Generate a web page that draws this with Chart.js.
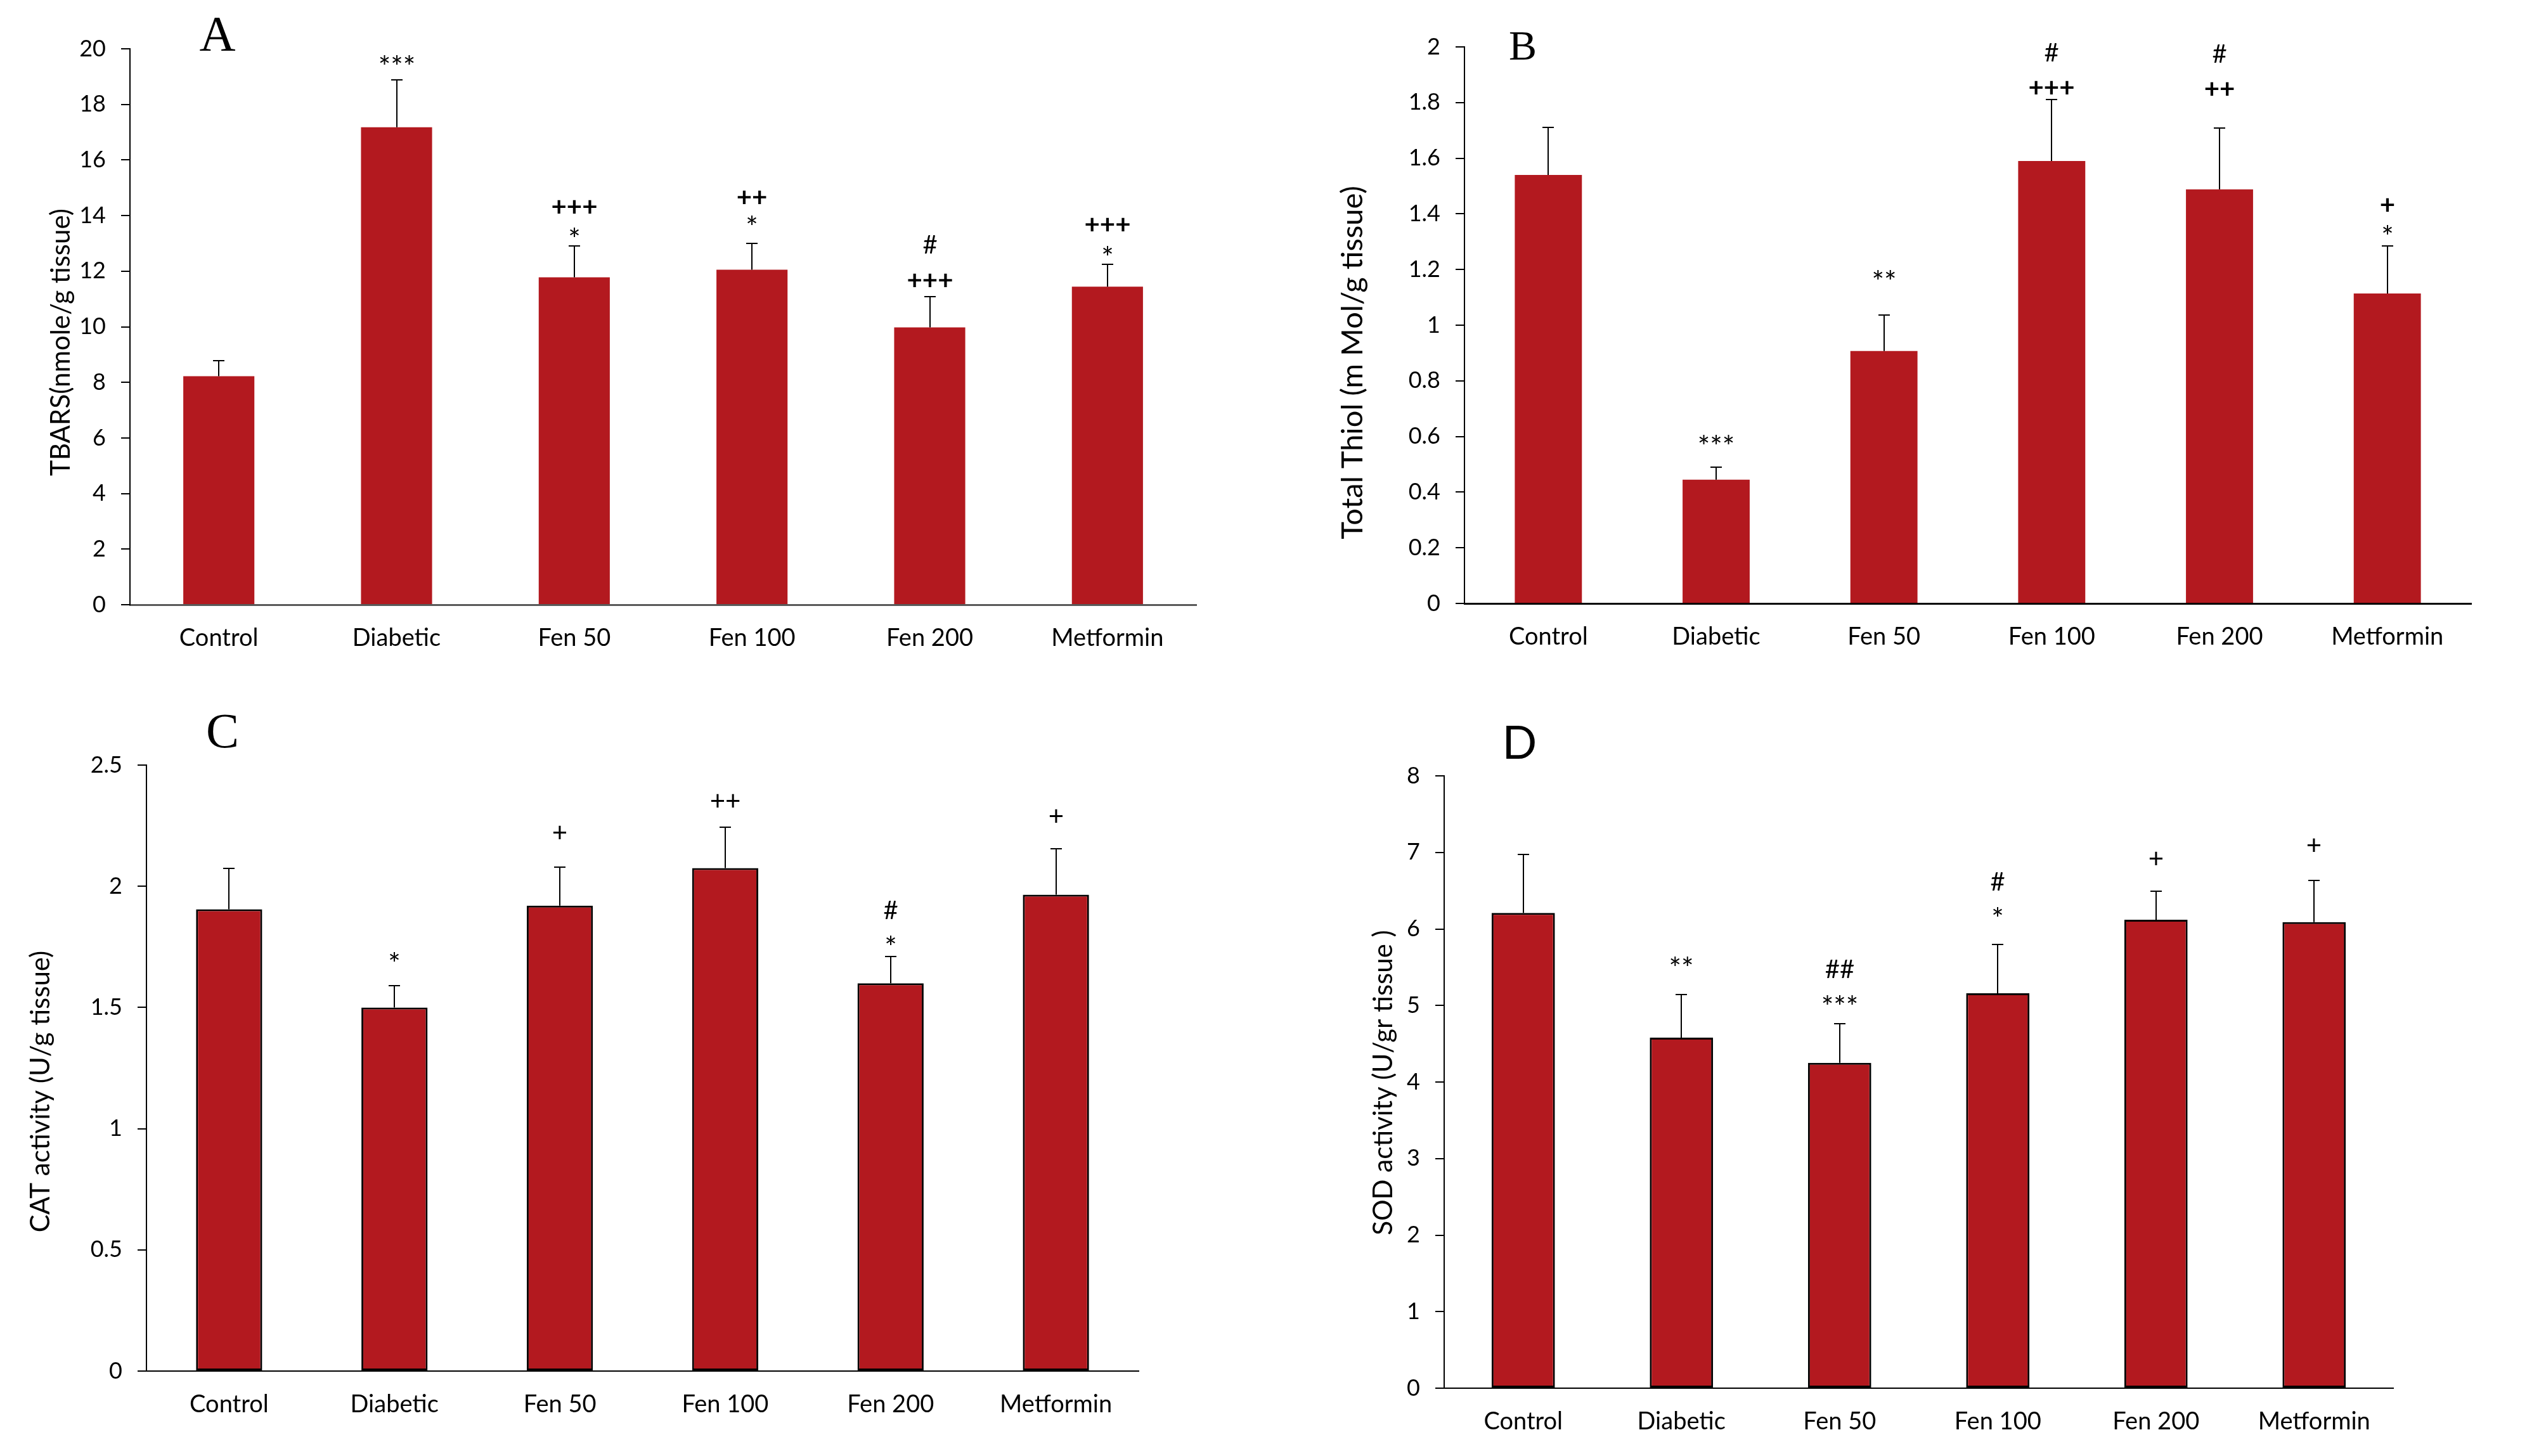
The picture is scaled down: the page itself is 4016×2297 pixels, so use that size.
<!DOCTYPE html>
<html>
<head>
<meta charset="utf-8">
<script src="https://cdn.jsdelivr.net/npm/chart.js@4.4.1/dist/chart.umd.min.js"></script>
<style>
  html, body { margin: 0; padding: 0; background: #ffffff; }
  body { width: 4016px; height: 2297px; position: relative; overflow: hidden; }
  canvas { position: absolute; }
</style>
</head>
<body>
<canvas id="cA"></canvas>
<canvas id="cB"></canvas>
<canvas id="cC"></canvas>
<canvas id="cD"></canvas>
<script>
// ---------------- DATA ----------------
const groups = ['Control', 'Diabetic', 'Fen 50', 'Fen 100', 'Fen 200', 'Metformin'];

const tbarsMean = [8.22, 17.18, 11.78, 12.05, 9.98, 11.44];
const tbarsErr  = [0.55, 1.70, 1.13, 0.95, 1.10, 0.80];
const tbarsMarks = [[], ['***'], ['*', '+++'], ['*', '++'], ['+++', '#'], ['*', '+++']];
const tbarsTicks = ['0', '2', '4', '6', '8', '10', '12', '14', '16', '18', '20'];

const thiolMean = [1.54, 0.445, 0.907, 1.59, 1.488, 1.114];
const thiolErr  = [0.17, 0.045, 0.13, 0.22, 0.22, 0.17];
const thiolMarks = [[], ['***'], ['**'], ['+++', '#'], ['++', '#'], ['*', '+']];
const thiolTicks = ['0', '0.2', '0.4', '0.6', '0.8', '1', '1.2', '1.4', '1.6', '1.8', '2'];

const catMean = [1.905, 1.50, 1.92, 2.075, 1.60, 1.965];
const catErr  = [0.17, 0.09, 0.16, 0.17, 0.11, 0.19];
const catMarks = [[], ['*'], ['+'], ['++'], ['*', '#'], ['+']];
const catTicks = ['0', '0.5', '1', '1.5', '2', '2.5'];

const sodMean = [6.21, 4.58, 4.25, 5.16, 6.12, 6.09];
const sodErr  = [0.76, 0.56, 0.51, 0.64, 0.37, 0.54];
const sodMarks = [[], ['**'], ['***', '##'], ['*', '#'], ['+'], ['+']];
const sodTicks = ['0', '1', '2', '3', '4', '5', '6', '7', '8'];

// ---------------- PANELS (layout/style) ----------------
const BAR_COLOR = '#B3191F';
const FONT = 'Lato';
const PAD_TOP = 90, PAD_RIGHT = 60, X_AXIS_H = 110;

const panels = [
  { id: 'cA', mean: tbarsMean, err: tbarsErr, marks: tbarsMarks, ticks: tbarsTicks,
    title: 'TBARS(nmole/g tissue)', titleSize: 42, area: { L: 205, T: 77, R: 1887, B: 954 },
    titleX: 96, titleY: 540,
    letter: 'A', letterFont: '79px "Liberation Serif"', letterX: 343, letterY: 79,
    xBorder: '#595959', xBorderW: 3, barBorder: 0, boldPlus: true,
    lift: [0, 32, 22, 37, 26, 22], gap: [0, 0, 40, 36, 57, 41] },
  { id: 'cB', mean: thiolMean, err: thiolErr, marks: thiolMarks, ticks: thiolTicks,
    title: 'Total Thiol (m Mol/g tissue)', titleSize: 47, area: { L: 2310, T: 74, R: 3898, B: 952 },
    titleX: 2134, titleY: 572,
    letter: 'B', letterFont: '66px "Liberation Serif"', letterX: 2402, letterY: 94,
    xBorder: '#000000', xBorderW: 3, barBorder: 0, boldPlus: true,
    lift: [0, 44, 64, 19, 62, 26], gap: [0, 0, 0, 56, 56, 39] },
  { id: 'cC', mean: catMean, err: catErr, marks: catMarks, ticks: catTicks,
    title: 'CAT activity (U/g tissue)', titleSize: 42, area: { L: 231, T: 1207, R: 1796, B: 2163 },
    titleX: 64, titleY: 1722,
    letter: 'C', letterFont: '78px "Liberation Serif"', letterX: 351, letterY: 1179,
    xBorder: '#000000', xBorderW: 2, barBorder: 3, boldPlus: false,
    lift: [0, 46, 55, 42, 26, 52], gap: [0, 0, 0, 0, 48, 0] },
  { id: 'cD', mean: sodMean, err: sodErr, marks: sodMarks, ticks: sodTicks,
    title: 'SOD activity (U/gr tissue )', titleSize: 42, area: { L: 2278, T: 1224, R: 3775, B: 2190 },
    titleX: 2182, titleY: 1708,
    letter: 'D', letterFont: '72px "Lato"', letterX: 2397, letterY: 1197,
    xBorder: '#000000', xBorderW: 2, barBorder: 3, boldPlus: false,
    lift: [0, 53, 38, 52, 52, 56], gap: [0, 0, 49, 48, 0, 0] }
];

// ---------------- PLUGIN: error bars, significance marks, axis title, panel letter ----------------
const extras = {
  id: 'extras',
  afterDatasetsDraw(chart, args, opts) {
    const ctx = chart.ctx;
    const meta = chart.getDatasetMeta(0);
    const ys = chart.scales.y;
    const ds = chart.data.datasets[0];
    ctx.save();
    ctx.strokeStyle = '#000';
    ctx.lineWidth = 2;
    meta.data.forEach((bar, i) => {
      const v = ds.data[i];
      const yb = ys.getPixelForValue(v);
      const yt = Math.round(ys.getPixelForValue(v + opts.errors[i]));
      const x = Math.round(bar.x);
      ctx.beginPath();
      ctx.moveTo(x, yb);
      ctx.lineTo(x, yt);
      ctx.moveTo(x - 9, yt);
      ctx.lineTo(x + 9, yt);
      ctx.stroke();
      const marks = opts.marks[i] || [];
      marks.forEach((s, k) => {
        const isPlus = s.indexOf('+') >= 0;
        const isStar = s.indexOf('*') >= 0;
        const bold = opts.boldPlus && isPlus;
        const size = isPlus ? 42 : (isStar ? 46 : 40);
        ctx.font = (bold ? 'bold ' : '') + size + 'px ' + FONT;
        ctx.fillStyle = '#000';
        ctx.textAlign = 'center';
        ctx.textBaseline = 'alphabetic';
        const m = ctx.measureText(s);
        const cy = yt - opts.lift[i] - k * opts.gap[i];
        const by = cy + (m.actualBoundingBoxAscent - m.actualBoundingBoxDescent) / 2;
        ctx.fillText(s, x, by);
      });
    });
    ctx.restore();
  },
  afterDraw(chart, args, opts) {
    const ctx = chart.ctx;
    ctx.save();
    ctx.font = opts.letterFont;
    ctx.fillStyle = '#000';
    ctx.textAlign = 'center';
    ctx.textBaseline = 'alphabetic';
    ctx.fillText(opts.letter, opts.letterX, opts.letterY);
    ctx.restore();

    ctx.save();
    ctx.translate(opts.titleX, opts.titleY);
    ctx.rotate(-Math.PI / 2);
    ctx.font = opts.titleSize + 'px ' + FONT;
    ctx.fillStyle = '#000';
    ctx.textAlign = 'center';
    ctx.textBaseline = 'middle';
    ctx.fillText(opts.title, 0, 0);
    ctx.restore();
  }
};

// ---------------- BUILD ----------------
panels.forEach(p => {
  const left = Math.round(p.titleX - p.titleSize * 0.65);
  const yAxisW = p.area.L - left;
  const top = p.area.T - PAD_TOP;
  const width = p.area.R + PAD_RIGHT - left;
  const height = p.area.B + X_AXIS_H - top;
  const cv = document.getElementById(p.id);
  cv.width = width; cv.height = height;
  cv.style.left = left + 'px'; cv.style.top = top + 'px';
  cv.style.width = width + 'px'; cv.style.height = height + 'px';

  const tickLabels = p.ticks;
  const yMax = Number(tickLabels[tickLabels.length - 1]);

  new Chart(cv, {
    type: 'bar',
    data: {
      labels: groups,
      datasets: [{
        data: p.mean,
        backgroundColor: BAR_COLOR,
        borderColor: '#000000',
        borderWidth: p.barBorder,
        borderSkipped: false,
        categoryPercentage: 1.0,
        barPercentage: 0.40
      }]
    },
    options: {
      responsive: false,
      animation: false,
      devicePixelRatio: 1,
      layout: { padding: { top: PAD_TOP, right: PAD_RIGHT, left: 0, bottom: 0 } },
      plugins: {
        legend: { display: false },
        tooltip: { enabled: false },
        extras: {
          errors: p.err, marks: p.marks, lift: p.lift, gap: p.gap, boldPlus: p.boldPlus,
          letter: p.letter, letterFont: p.letterFont,
          letterX: p.letterX - left, letterY: p.letterY - top,
          title: p.title, titleSize: p.titleSize,
          titleX: p.titleX - left, titleY: p.titleY - top
        }
      },
      scales: {
        x: {
          type: 'category',
          offset: true,
          grid: { display: false, drawTicks: false },
          border: { display: true, color: p.xBorder, width: p.xBorderW },
          ticks: { color: '#000', font: { family: FONT, size: 38 }, padding: 30, maxRotation: 0, autoSkip: false },
          afterFit: s => { s.height = X_AXIS_H; }
        },
        y: {
          min: 0,
          max: yMax,
          afterBuildTicks: s => { s.ticks = tickLabels.map(t => ({ value: Number(t) })); },
          ticks: {
            callback: (v, i) => tickLabels[i],
            color: '#000', font: { family: FONT, size: 36 }, padding: 24
          },
          grid: { drawOnChartArea: false, drawTicks: true, tickLength: 14, color: '#000', lineWidth: 2 },
          border: { display: true, color: '#000', width: 2 },
          afterFit: s => { s.width = yAxisW; }
        }
      }
    },
    plugins: [extras]
  });
});
</script>
</body>
</html>
